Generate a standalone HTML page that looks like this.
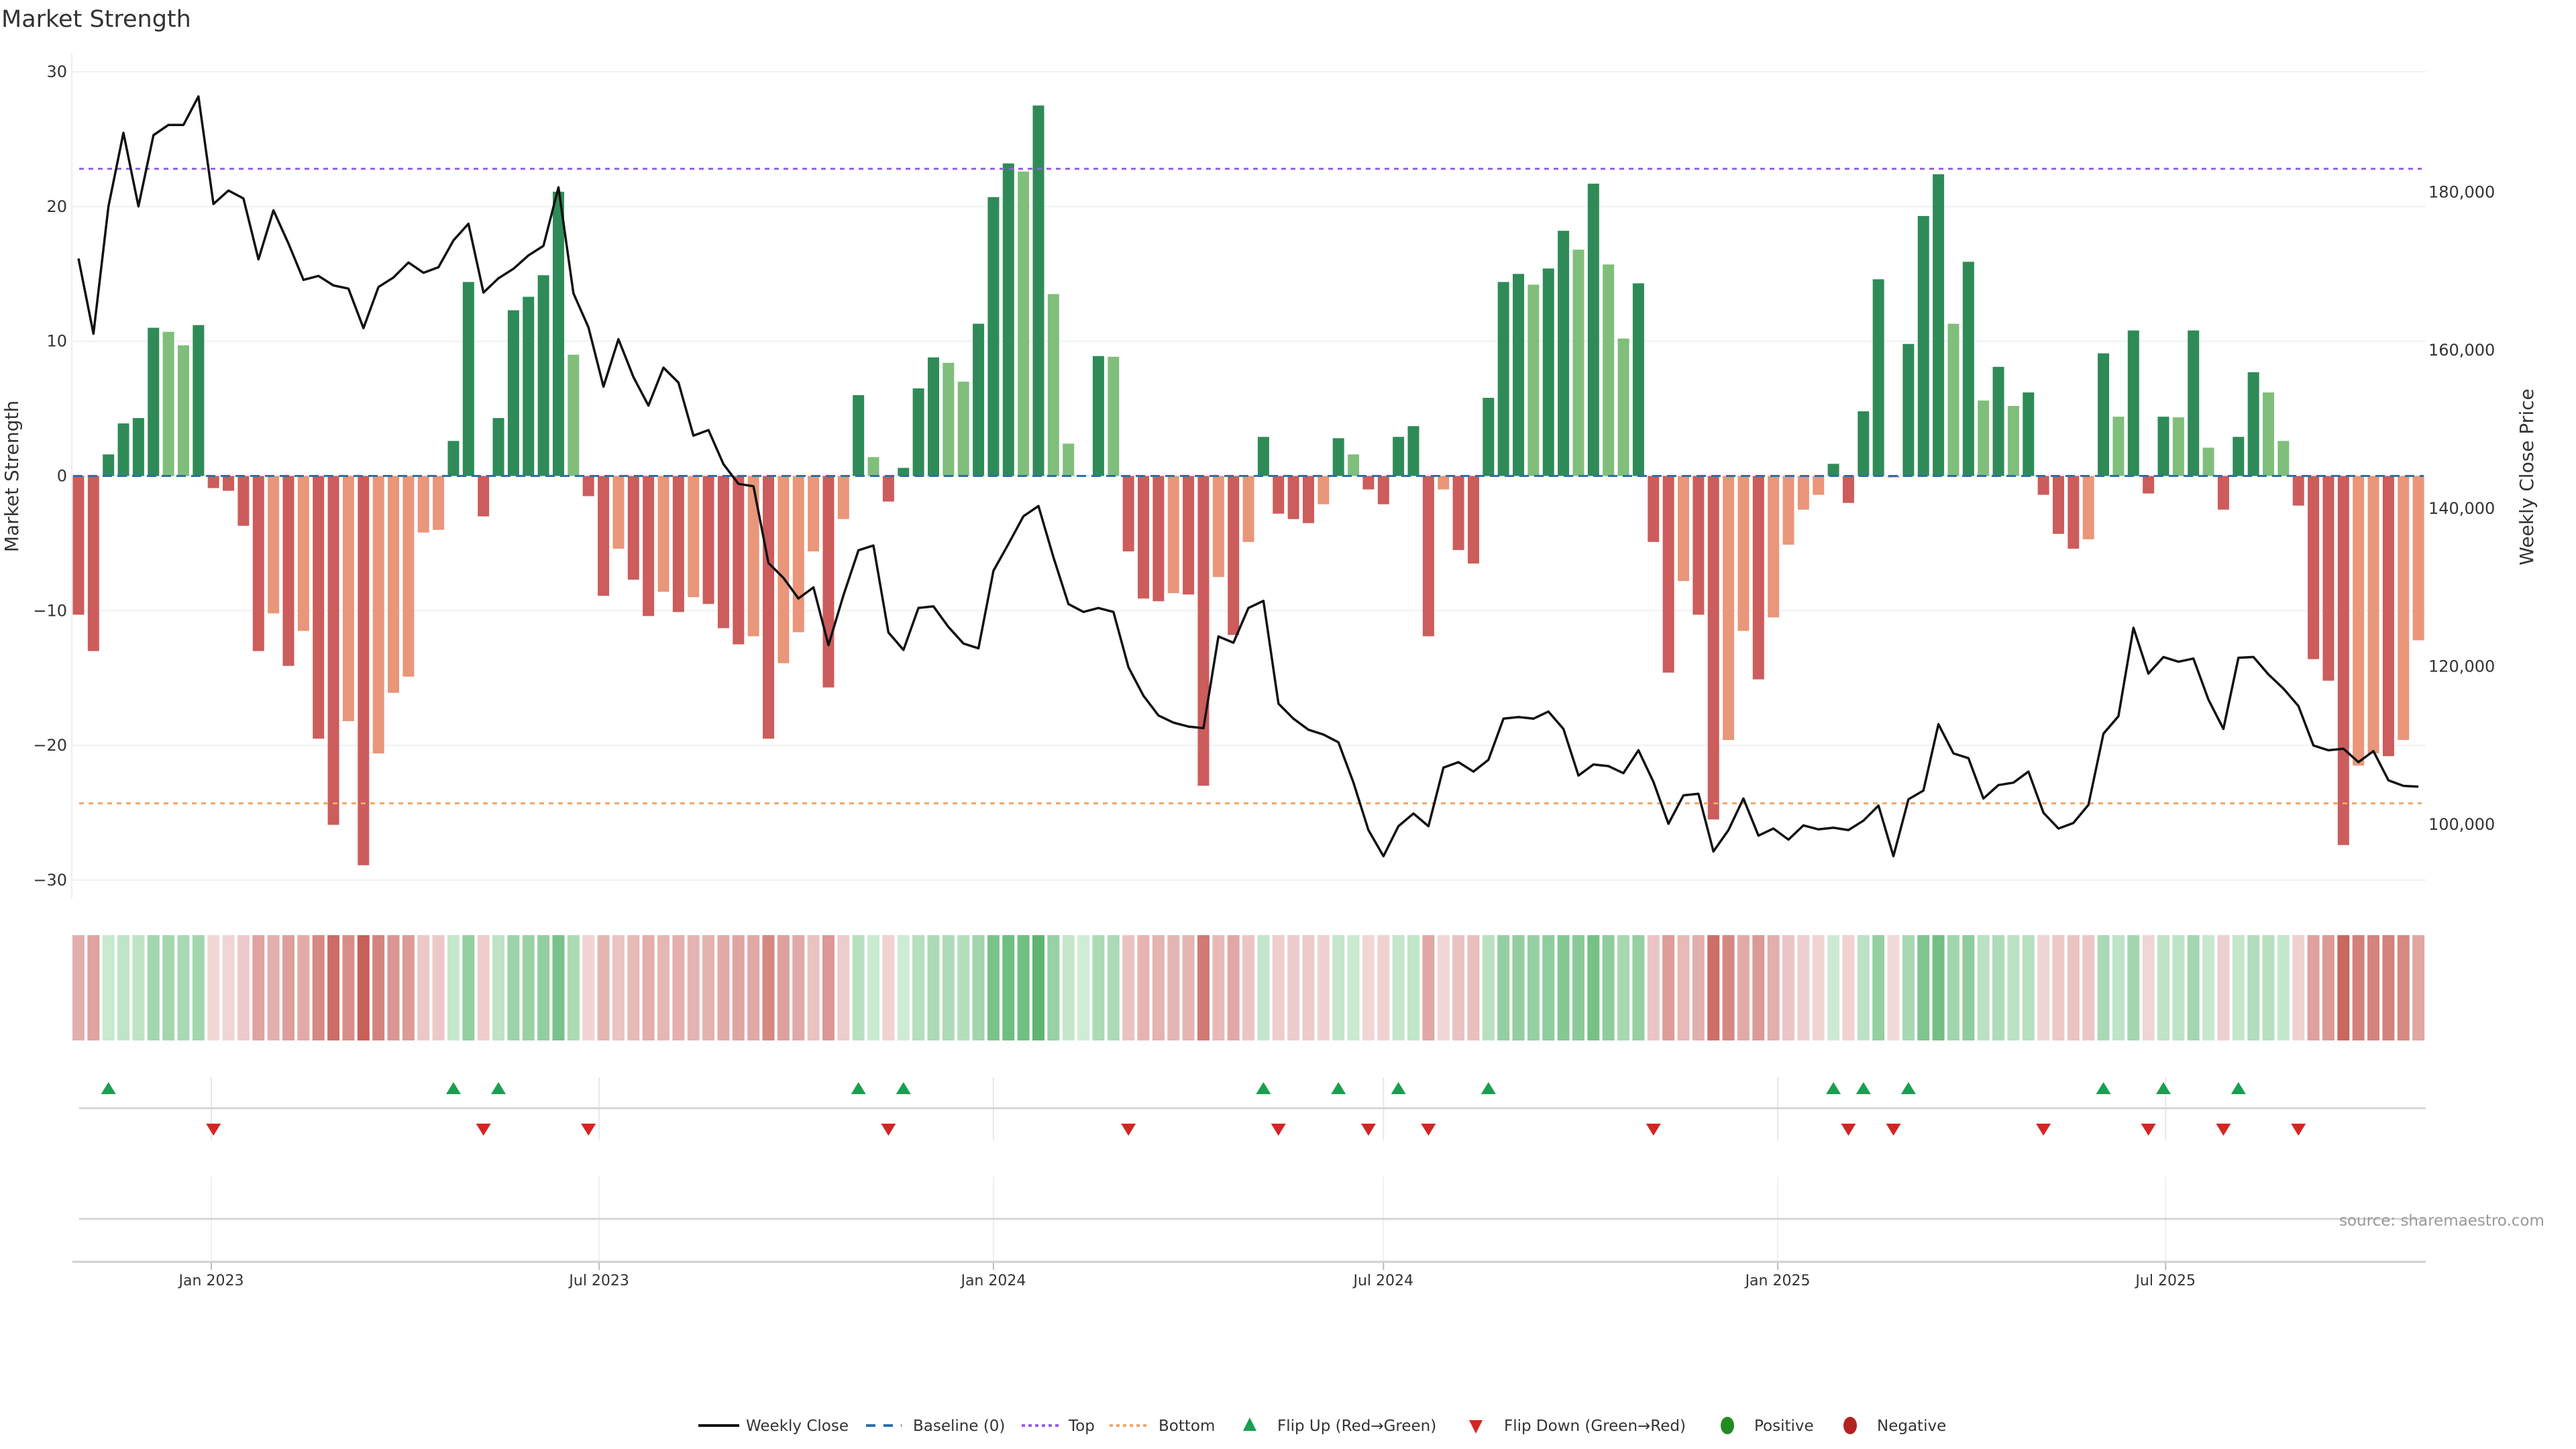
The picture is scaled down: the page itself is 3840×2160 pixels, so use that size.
<!DOCTYPE html>
<html><head><meta charset="utf-8"><title>Market Strength</title>
<style>
html,body{margin:0;padding:0;background:#fff;}
svg{display:block;font-family:"DejaVu Sans","Liberation Sans",sans-serif;}
</style></head>
<body>
<svg id="chart" xmlns="http://www.w3.org/2000/svg" width="3840" height="2160" viewBox="0 0 3840 2160">
<rect x="0" y="0" width="3840" height="2160" fill="#fff"/>
<text x="2" y="40" font-size="35" fill="#333">Market Strength</text>
<g id="grid"></g>
<g id="bars"></g>
<g id="lines"></g>
<g id="heat"></g>
<g id="flips"></g>
<g id="axes"></g>
<g id="legend"></g>
<text x="3487" y="1827" font-size="23" fill="#999">source: sharemaestro.com</text>
</svg>
<script>
const strengthValues = [-10.3,-13.0,1.6,3.9,4.3,11.0,10.7,9.7,11.2,-0.9,-1.1,-3.7,-13.0,-10.2,-14.1,-11.5,-19.5,-25.9,-18.2,-28.9,-20.6,-16.1,-14.9,-4.2,-4.0,2.6,14.4,-3.0,4.3,12.3,13.3,14.9,21.1,9.0,-1.5,-8.9,-5.4,-7.7,-10.4,-8.6,
-10.1,-9.0,-9.5,-11.3,-12.5,-11.9,-19.5,-13.9,-11.6,-5.6,-15.7,-3.2,6.0,1.4,-1.9,0.6,6.5,8.8,8.4,7.0,11.3,20.7,23.2,22.6,27.5,13.5,2.4,0,8.9,8.85,-5.6,-9.1,-9.3,-8.7,-8.8,-23.0,-7.5,-11.8,-4.9,2.9,-2.8,-3.2,-3.5,
-2.1,2.8,1.6,-1.0,-2.1,2.9,3.7,-11.9,-1.0,-5.5,-6.5,5.8,14.4,15.0,14.2,15.4,18.2,16.8,21.7,15.7,10.2,14.3,-4.9,-14.6,-7.8,-10.3,-25.5,-19.6,-11.5,-15.1,-10.5,-5.1,-2.5,-1.4,0.9,-2.0,4.8,14.6,-0.1,9.8,19.3,22.4,
11.3,15.9,5.6,8.1,5.2,6.2,-1.4,-4.3,-5.4,-4.7,9.1,4.4,10.8,-1.3,4.4,4.35,10.8,2.1,-2.5,2.9,7.7,6.2,2.6,-2.2,-13.6,-15.2,-27.4,-21.5,-20.6,-20.8,-19.6,-12.2];
const closePrices = [171600,162100,178200,187500,178200,187200,188500,188500,192100,178500,180200,179200,171500,177700,173500,168900,169400,168200,167800,162800,168000,169200,171100,169800,170500,173900,176000,167300,169100,170300,172000,173200,180600,167200,162900,155400,161400,156600,153000,157800,
155900,149200,149900,145600,143100,142800,133100,131200,128600,130000,122700,129000,134700,135300,124300,122100,127400,127600,125000,122900,122300,132100,135500,139000,140300,133800,127900,126900,127400,126900,119900,116300,113800,112900,112400,112200,123800,123000,127400,128300,115300,113400,112000,
111400,110400,105300,99300,96000,99800,101400,99800,107200,107900,106700,108200,113400,113600,113400,114300,112100,106200,107600,107400,106500,109400,105400,100100,103700,103900,96600,99300,103300,98600,99500,98100,99900,99400,99600,99300,100500,102400,96000,103200,104300,112700,
109000,108400,103300,105000,105300,106700,101500,99500,100200,102500,111500,113700,124900,119100,121200,120600,121000,115800,112100,121100,121200,119000,117200,115000,110000,109400,109600,107900,109300,105600,104900,104800];
const strengthTicks = [-30,-20,-10,0,10,20,30];
const priceTicks = [100000,120000,140000,160000,180000];
const dateTickLabels = ["Jan 2023","Jul 2023","Jan 2024","Jul 2024","Jan 2025","Jul 2025"];
const dateTickDates = ["2023-01-01","2023-07-01","2024-01-01","2024-07-01","2025-01-01","2025-07-01"];
const topLevel = 22.8;
const bottomLevel = -24.3;
const firstWeek = "2022-10-31";

const NS = "http://www.w3.org/2000/svg";
const X0 = 107, X1 = 3616;
const DAY = 86400000;
const refDate = Date.UTC(2023,0,1);
function dateMs(s){const p=s.split("-");return Date.UTC(+p[0],+p[1]-1,+p[2]);}
function xDate(ms){return 315 + (ms-refDate)/DAY*(22.36/7);}
function xBar(i){return xDate(dateMs(firstWeek)+i*7*DAY);}
function yL(v){return 709.5 - v*20.08;}
function yR(p){return 286.4 + (180000-p)*0.011785;}
function mk(tag,attrs,parent){const e=document.createElementNS(NS,tag);for(const k in attrs)e.setAttribute(k,attrs[k]);parent.appendChild(e);return e;}

const grid=document.getElementById("grid"), bars=document.getElementById("bars"), lines=document.getElementById("lines"),
heat=document.getElementById("heat"), flips=document.getElementById("flips"), axes=document.getElementById("axes"), legend=document.getElementById("legend");

let ax = mk("line",{x1:X0,y1:80,x2:X0,y2:1339,stroke:"#eceef1","stroke-width":2},grid);


strengthTicks.forEach(t=>{
  const y=yL(t);
  const g=mk("line",{x1:X0,y1:y,x2:X1,y2:y,stroke:"#eef0f4","stroke-width":2},grid);
  
  
  const tx=mk("text",{x:100,y:y+8,"text-anchor":"end","font-size":24,fill:"#333"},axes);
  tx.textContent = t<0 ? "\u2212"+Math.abs(t) : String(t);
  
  
});
priceTicks.forEach(p=>{
  const tx=mk("text",{x:3620,y:yR(p)+8,"font-size":24,fill:"#333"},axes);
  tx.textContent = p.toLocaleString("en-US");
  
  
});
let yt=mk("text",{x:0,y:0,"font-size":28,fill:"#333","text-anchor":"middle",transform:"translate(27,710) rotate(-90)"},axes);
yt.textContent="Market Strength";


let yt2=mk("text",{x:0,y:0,"font-size":28,fill:"#333","text-anchor":"middle",transform:"translate(3776,711) rotate(-90)"},axes);
yt2.textContent="Weekly Close Price";



function barColor(i){const v=strengthValues[i];const pv=i>0?strengthValues[i-1]:(v>=0?-1:1);
  if(v>=0) return v>pv?"#2e8b57":"#7fbf7b";
  return v<pv?"#cd5c5c":"#e9967a";}
strengthValues.forEach((v,i)=>{
  const x=xBar(i), y0=yL(0), y1=yL(v);
  const r=mk("rect",{x:x-8.5,y:Math.min(y0,y1),width:17,height:Math.max(Math.abs(y1-y0),0.5),fill:barColor(i)},bars);
  
  
});
let bl=mk("line",{x1:xBar(0)-8,y1:yL(0),x2:xBar(strengthValues.length-1)+8,y2:yL(0),stroke:"#2e6fa8","stroke-width":3,"stroke-dasharray":"14 8"},lines);


let tl=mk("line",{x1:118,y1:yL(topLevel),x2:3610,y2:yL(topLevel),stroke:"#9b5fe0","stroke-width":3,"stroke-dasharray":"7 7"},lines);


let btl=mk("line",{x1:118,y1:yL(bottomLevel),x2:3610,y2:yL(bottomLevel),stroke:"#f0a868","stroke-width":3,"stroke-dasharray":"7 7"},lines);


let d="";
closePrices.forEach((p,i)=>{d+=(i?"L":"M")+xBar(i).toFixed(1)+","+yR(p).toFixed(1);});
let pl=mk("path",{d:d,fill:"none",stroke:"#111","stroke-width":3.5,"stroke-linejoin":"round"},lines);



function mix(a,b,t){return "rgb("+a.map((c,k)=>Math.round(c+(b[k]-c)*t)).join(",")+")";}
strengthValues.forEach((v,i)=>{
  const t=Math.min(1,Math.abs(v)/29);
  const col = v>=0 ? mix([208,236,214],[88,178,108],t) : mix([242,218,218],[200,96,88],t);
  const r=mk("rect",{x:xBar(i)-9,y:1394,width:18,height:157,fill:col},heat);
  
  
});

dateTickDates.forEach((s,k)=>{
  const x=xDate(dateMs(s));
  const g1=mk("line",{x1:x,y1:1606,x2:x,y2:1700,stroke:"#e6e8ec","stroke-width":2},grid);
  
  
  const g2=mk("line",{x1:x,y1:1754,x2:x,y2:1881,stroke:"#eef0f3","stroke-width":2},grid);
  
  
  const tk=mk("line",{x1:x,y1:1881,x2:x,y2:1893,stroke:"#bbb","stroke-width":2},axes);
  
  
  const tx=mk("text",{x:x,y:1916,"text-anchor":"middle","font-size":22,fill:"#333"},axes);
  tx.textContent=dateTickLabels[k];
  
  
});
let sep=mk("line",{x1:118,y1:1652,x2:X1,y2:1652,stroke:"#d6d6d6","stroke-width":3},axes);


let sep2=mk("line",{x1:118,y1:1817,x2:X1,y2:1817,stroke:"#d6d6d6","stroke-width":3},axes);


let xa=mk("line",{x1:108,y1:1881,x2:X1,y2:1881,stroke:"#cfcfcf","stroke-width":3},axes);



for(let i=1;i<strengthValues.length;i++){
  const pos=strengthValues[i]>=0, prev=strengthValues[i-1]>=0;
  const x=xBar(i);
  if(pos&&!prev){
    const t=mk("polygon",{points:(x-11)+",1631 "+(x+11)+",1631 "+x+",1613",fill:"#1a9e50"},flips);
    
    
  } else if(!pos&&prev){
    const t=mk("polygon",{points:(x-11)+",1675 "+(x+11)+",1675 "+x+",1693",fill:"#d62424"},flips);
    
    
  }
}

const legendLabels=["Weekly Close","Baseline (0)","Top","Bottom","Flip Up (Red\u2192Green)","Flip Down (Green\u2192Red)","Positive","Negative"];
const legendTextX=[1112,1361,1593,1727,1904,2242,2615,2798];
const LY=2125;
let s;
s=mk("line",{x1:1041,y1:LY,x2:1102,y2:LY,stroke:"#111","stroke-width":4},legend);


s=mk("line",{x1:1291,y1:LY,x2:1344,y2:LY,stroke:"#2e6fa8","stroke-width":4,"stroke-dasharray":"14 12"},legend);


s=mk("line",{x1:1523,y1:LY,x2:1580,y2:LY,stroke:"#9b5fe0","stroke-width":4,"stroke-dasharray":"5 5"},legend);


s=mk("line",{x1:1654,y1:LY,x2:1712,y2:LY,stroke:"#f0a868","stroke-width":4,"stroke-dasharray":"5 5"},legend);


s=mk("polygon",{points:"1853,2133 1873,2133 1863,2113",fill:"#1a9e50"},legend);


s=mk("polygon",{points:"2190,2117 2210,2117 2200,2137",fill:"#d62424"},legend);


s=mk("ellipse",{cx:2575,cy:LY,rx:10,ry:13,fill:"#228b22"},legend);


s=mk("ellipse",{cx:2758,cy:LY,rx:10,ry:13,fill:"#b22222"},legend);


legendLabels.forEach((t,k)=>{
  const tx=mk("text",{x:legendTextX[k],y:LY+8,"font-size":23,fill:"#333"},legend);
  tx.textContent=t;
  
  
});
</script>
</body></html>
